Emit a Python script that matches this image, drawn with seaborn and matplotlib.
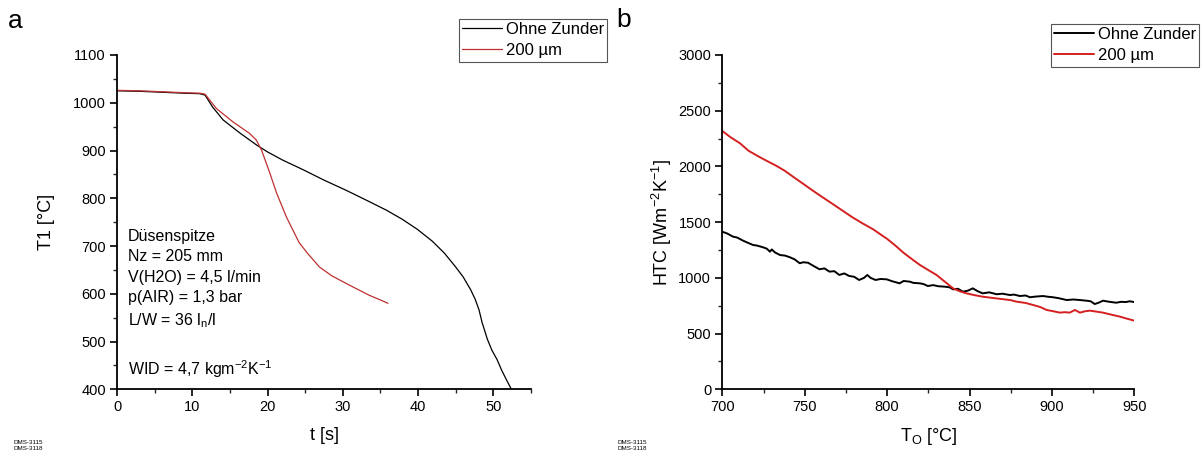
import pandas as pd
import matplotlib
matplotlib.use("Agg")
import matplotlib.pyplot as plt
import seaborn as sns
from matplotlib.ticker import AutoMinorLocator, MultipleLocator

# --- Data ---
# Panel a: surface temperature T1 over time
t_ohne = [0, 3, 6, 9, 11, 11.7, 12.7, 14.1, 16.3, 18.5, 20, 22, 24.7, 27.5, 30.4,
          33, 35.8, 37.9, 39.9, 41.9, 43.5, 45, 46, 47, 47.6, 48.1, 48.5, 49.2,
          49.8, 50.5, 51.1, 51.8, 52.3, 52.8]
T_ohne = [1025, 1024, 1022, 1020, 1019, 1016, 991, 964, 937, 912, 897, 880, 860,
          838, 817, 797, 775, 756, 735, 710, 685, 656, 635, 608, 588, 566, 540,
          505, 482, 462, 440, 418, 403, 390]

t_200 = [0, 3, 6, 9, 11, 11.7, 13.2, 15.4, 17.6, 18.5, 19.2, 20.3, 21.2, 22.5,
         24.2, 25.3, 26.9, 28.5, 30.4, 32, 33.5, 35, 36]
T_200 = [1026, 1025, 1023, 1021, 1020, 1018, 988, 960, 936, 922, 901, 853, 811,
         761, 707, 685, 656, 638, 622, 609, 597, 587, 580]

# Panel b: heat transfer coefficient over surface temperature
To_ohne = [700, 703, 706.5, 709, 712.6, 715, 718.7, 721, 724.8, 727, 728.9, 730,
           732, 735, 738, 741, 744, 747, 749, 752, 755, 759, 762, 765, 768, 771,
           774, 777, 780, 783, 786, 788, 790, 793, 796, 799.7, 803, 807.6, 810,
           813.7, 816, 819.8, 822, 824.7, 828, 831, 835, 838, 840, 843, 846, 849,
           852, 855, 858, 862, 866.5, 870, 874.5, 877, 880.6, 884, 886.7, 890,
           894.6, 898, 900.7, 904, 909, 913, 917, 921, 923.5, 926, 928.5, 931,
           935, 939, 942, 945, 947, 950]
htc_ohne = [1414, 1398, 1370, 1362, 1334, 1318, 1295, 1290, 1274, 1262, 1235,
            1255, 1228, 1205, 1200, 1185, 1165, 1131, 1140, 1136, 1110, 1077,
            1085, 1056, 1060, 1026, 1040, 1017, 1010, 981, 1000, 1026, 1000, 981,
            990, 987, 970, 951, 972, 966, 955, 951, 945, 927, 935, 925, 921, 915,
            897, 902, 876, 885, 906, 880, 861, 870, 853, 858, 846, 850, 837, 842,
            826, 832, 837, 830, 826, 818, 801, 806, 801, 795, 790, 765, 778, 795,
            785, 777, 785, 783, 790, 783]

To_200 = [700, 705, 710.7, 716, 722.9, 728, 733, 738, 742.9, 749, 755, 761, 767,
          773, 779, 785, 791.5, 797, 800, 805, 810, 815.8, 820, 825, 830, 835,
          840, 844, 848.4, 853, 858, 864, 870.6, 875, 878.7, 884, 888.5, 893,
          896.8, 901, 904.8, 908, 910.8, 914, 917, 920, 923, 927, 931, 936,
          941.3, 945, 950]
htc_200 = [2318, 2262, 2208, 2140, 2082, 2042, 2004, 1960, 1908, 1845, 1782,
           1722, 1663, 1603, 1543, 1490, 1436, 1380, 1350, 1290, 1225, 1160,
           1115, 1070, 1026, 966, 906, 880, 860, 845, 831, 820, 808, 800, 786,
           775, 757, 738, 712, 700, 688, 692, 688, 712, 688, 700, 706, 697, 688,
           670, 652, 636, 616]

LEGEND_LABELS = ["Ohne Zunder", "200 \u00b5m"]
NOTE_LINES = ["Düsenspitze", "Nz = 205 mm", "V(H2O) = 4,5 l/min",
              "p(AIR) = 1,3 bar", "L/W = 36 l$_{\\mathregular{n}}$/l", "",
              "WID = 4,7 kgm$^{\\mathregular{-2}}$K$^{\\mathregular{-1}}$"]

df_a = pd.concat([
    pd.DataFrame({"t": t_ohne, "T": T_ohne, "Probe": LEGEND_LABELS[0]}),
    pd.DataFrame({"t": t_200, "T": T_200, "Probe": LEGEND_LABELS[1]}),
])
df_b = pd.concat([
    pd.DataFrame({"To": To_ohne, "HTC": htc_ohne, "Probe": LEGEND_LABELS[0]}),
    pd.DataFrame({"To": To_200, "HTC": htc_200, "Probe": LEGEND_LABELS[1]}),
])

sns.set_theme(style="ticks")
plt.rcParams["font.family"] = ["Liberation Sans", "DejaVu Sans"]
plt.rcParams["mathtext.fontset"] = "custom"
plt.rcParams["mathtext.rm"] = "Liberation Sans"
plt.rcParams["mathtext.it"] = "Liberation Sans"
plt.rcParams["text.color"] = "black"
plt.rcParams["axes.labelcolor"] = "black"

W, H = 1202, 459
fig = plt.figure(figsize=(W / 100, H / 100), dpi=100)
ax_a = fig.add_axes([117 / W, 1 - 389.3 / H, (531 - 117) / W, (389.3 - 55) / H])
ax_b = fig.add_axes([722.3 / W, 1 - 389.3 / H, (1134.3 - 722.3) / W, (389.3 - 55) / H])


def style_axes(ax):
    for side in ["top", "right"]:
        ax.spines[side].set_visible(False)
    for side in ["left", "bottom"]:
        ax.spines[side].set_linewidth(1.3)
        ax.spines[side].set_color("black")
    ax.xaxis.set_minor_locator(AutoMinorLocator(2))
    ax.yaxis.set_minor_locator(AutoMinorLocator(2))
    ax.tick_params(which="major", direction="out", length=5, width=1.2,
                   labelsize=10.5, colors="black", pad=3)
    ax.tick_params(which="minor", direction="out", length=3, width=1.0)
    ax.grid(False)


def add_legend(ax, x0, y0):
    leg = ax.legend(loc="upper left", bbox_to_anchor=(x0 / W, 1 - y0 / H),
                    bbox_transform=fig.transFigure, fontsize=12, frameon=True,
                    fancybox=False, edgecolor="#555555", framealpha=1,
                    handlelength=2.35, handletextpad=0.25, borderpad=0.2,
                    borderaxespad=0, labelspacing=0.35, title=None)
    leg.get_frame().set_linewidth(0.8)


# --- Panel a ---
sns.lineplot(data=df_a, x="t", y="T", hue="Probe", sort=False,
             palette=["black", "#c03030"], linewidth=0.9, ax=ax_a)
ax_a.set_xlim(0, 55)
ax_a.set_ylim(400, 1100)
ax_a.xaxis.set_major_locator(MultipleLocator(10))
ax_a.yaxis.set_major_locator(MultipleLocator(100))
ax_a.set_xlabel("t [s]", fontsize=13, labelpad=9)
ax_a.set_ylabel("T1 [°C]", fontsize=13)
ax_a.yaxis.set_label_coords(-0.150, 0.5)
style_axes(ax_a)
ax_a.text(128 / W, 1 - 229 / H, "\n".join(NOTE_LINES), transform=fig.transFigure,
          fontsize=11.5, va="top", ha="left", linespacing=1.45)
add_legend(ax_a, 459, 19)

# --- Panel b ---
sns.lineplot(data=df_b, x="To", y="HTC", hue="Probe", sort=False,
             palette=["black", "#d42020"], linewidth=1.4, ax=ax_b)
ax_b.set_xlim(700, 950)
ax_b.set_ylim(0, 3000)
ax_b.xaxis.set_major_locator(MultipleLocator(50))
ax_b.yaxis.set_major_locator(MultipleLocator(500))
ax_b.set_xlabel("T$_{\\mathregular{O}}$ [°C]", fontsize=13, labelpad=8)
ax_b.set_ylabel("HTC [Wm$^{\\mathregular{-2}}$K$^{\\mathregular{-1}}$]", fontsize=13)
ax_b.yaxis.set_label_coords(-0.118, 0.5)
style_axes(ax_b)
add_legend(ax_b, 1051, 24)

# panel letters and sample ids
fig.text(8 / W, 1 - 9 / H, "a", fontsize=19, va="top", ha="left")
fig.text(616 / W, 1 - 8 / H, "b", fontsize=19, va="top", ha="left")
for x0 in (13, 617):
    fig.text(x0 / W, 1 - 440 / H, "DMS-3115\nDMS-3118", fontsize=4.5,
             va="top", ha="left", linespacing=1.2)

fig.savefig("out.png", dpi=100)
